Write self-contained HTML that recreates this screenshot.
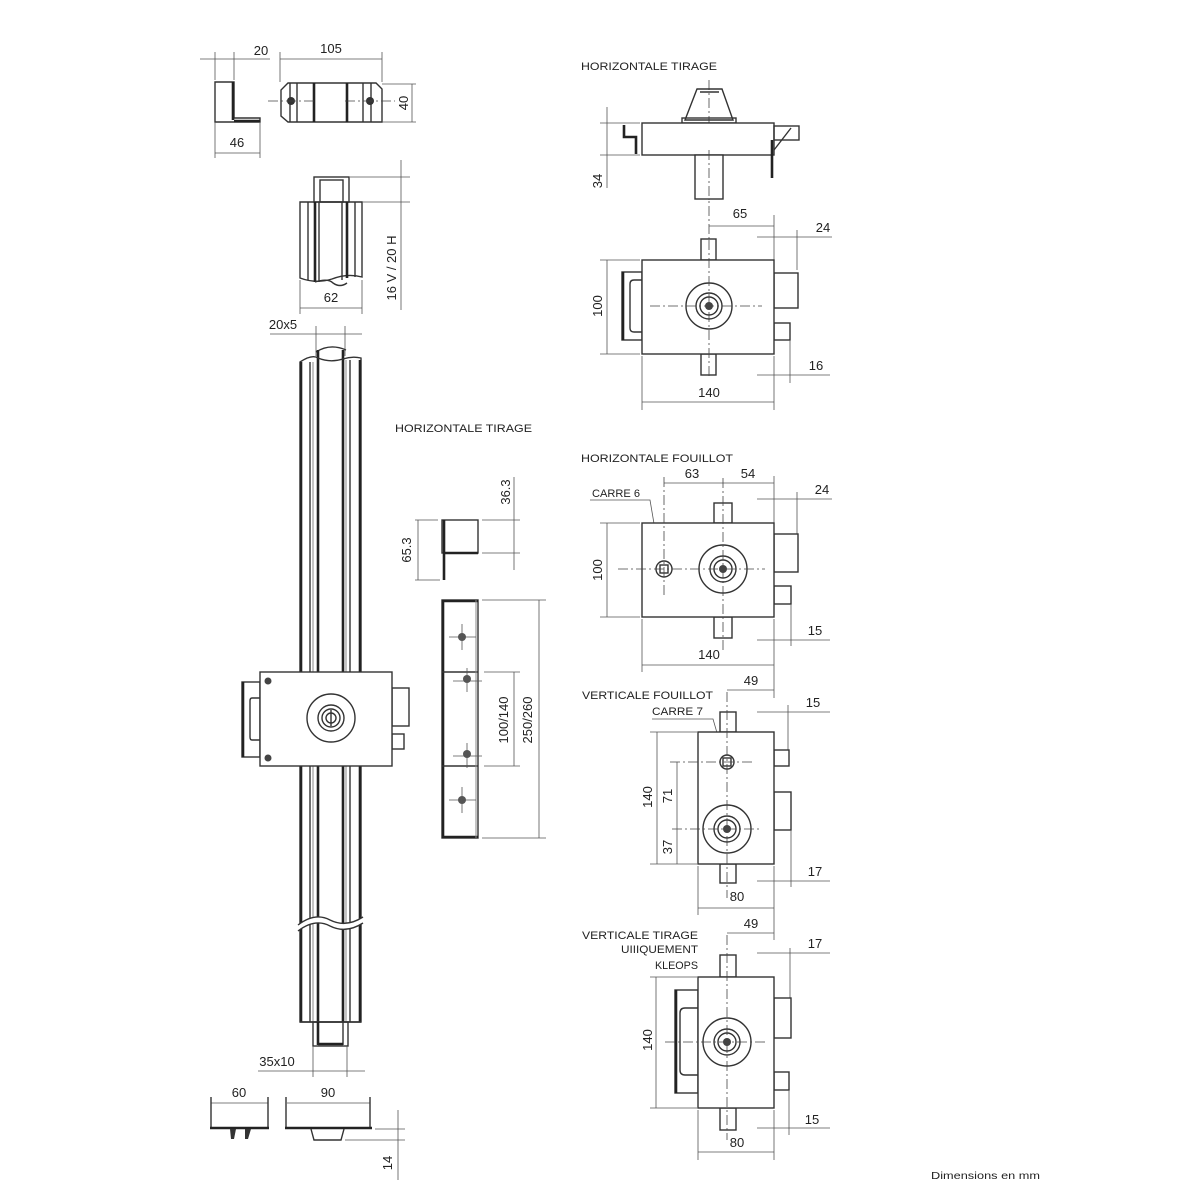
<!DOCTYPE html>
<html><head><meta charset="utf-8">
<style>
html,body{margin:0;padding:0;background:#fff;}
svg{display:block;}
text{font-family:"Liberation Sans",sans-serif;fill:#222;}
.o{fill:none;stroke:#333;stroke-width:1.4;}
.ow{fill:#fff;stroke:#333;stroke-width:1.4;}
.t{fill:none;stroke:#222;stroke-width:2.6;}
.d{fill:none;stroke:#555;stroke-width:0.8;}
.c{fill:none;stroke:#444;stroke-width:0.8;stroke-dasharray:10 3 2 3;}
.g{fill:none;stroke:#888;stroke-width:1;}
.lbl{font-size:13px;}
.hd{font-size:11px;}
</style></head>
<body>
<svg width="1200" height="1200" viewBox="0 0 1200 1200" xmlns="http://www.w3.org/2000/svg">

<!-- ===== Top-left L bracket ===== -->
<line class="d" x1="200" y1="59" x2="270" y2="59"/>
<line class="d" x1="215" y1="52" x2="215" y2="80"/>
<line class="d" x1="234" y1="52" x2="234" y2="80"/>
<text class="lbl" x="261" y="55" text-anchor="middle">20</text>
<path class="o" d="M215 82 H234 V118 H260 V122 H215 Z"/>
<line class="t" x1="233" y1="82" x2="233" y2="120"/>
<line class="t" x1="234" y1="121" x2="260" y2="121"/>
<line class="d" x1="215" y1="122" x2="215" y2="158"/>
<line class="d" x1="260" y1="122" x2="260" y2="158"/>
<line class="d" x1="215" y1="153" x2="260" y2="153"/>
<text class="lbl" x="237" y="147" text-anchor="middle">46</text>

<!-- ===== 105 piece ===== -->
<line class="d" x1="280" y1="52" x2="280" y2="82"/>
<line class="d" x1="382" y1="52" x2="382" y2="82"/>
<line class="d" x1="280" y1="59" x2="382" y2="59"/>
<text class="lbl" x="331" y="53" text-anchor="middle">105</text>
<path class="o" d="M288 83 H376 L382 89 V122 H288 L281 116 V90 Z"/>
<line class="o" x1="290" y1="83" x2="290" y2="122"/>
<line class="o" x1="297" y1="83" x2="297" y2="122"/>
<line class="t" x1="314" y1="83" x2="314" y2="122"/>
<line class="t" x1="347" y1="83" x2="347" y2="122"/>
<line class="o" x1="363" y1="83" x2="363" y2="122"/>
<line class="o" x1="371" y1="83" x2="371" y2="122"/>
<circle cx="291" cy="101" r="4" fill="#333"/>
<circle cx="370" cy="101" r="4" fill="#333"/>
<line class="c" x1="268" y1="101" x2="315" y2="101"/>
<line class="c" x1="345" y1="101" x2="395" y2="101"/>
<line class="d" x1="382" y1="84" x2="416" y2="84"/>
<line class="d" x1="382" y1="122" x2="416" y2="122"/>
<line class="d" x1="412" y1="84" x2="412" y2="122"/>
<text class="lbl" transform="translate(408,103) rotate(-90)" text-anchor="middle">40</text>

<!-- ===== Top rod end ===== -->
<rect class="o" x="314" y="177" width="35" height="25"/>
<rect class="o" x="320" y="180" width="23" height="22"/>
<path class="o" d="M300 202 H362 V277 Q347 273 332 279 Q316 284 300 278 Z"/>
<line class="o" x1="308" y1="202" x2="308" y2="280"/>
<line class="t" x1="315" y1="202" x2="315" y2="282"/>
<line class="o" x1="319" y1="202" x2="319" y2="282"/>
<line class="o" x1="342" y1="202" x2="342" y2="280"/>
<line class="t" x1="347" y1="202" x2="347" y2="278"/>
<line class="o" x1="355" y1="202" x2="355" y2="277"/>
<path class="o" d="M315 282 Q328 278 333 283 Q340 288 347 283"/>
<line class="d" x1="300" y1="280" x2="300" y2="314"/>
<line class="d" x1="362" y1="280" x2="362" y2="314"/>
<line class="d" x1="300" y1="308" x2="362" y2="308"/>
<text class="lbl" x="331" y="302" text-anchor="middle">62</text>
<line class="d" x1="350" y1="177" x2="410" y2="177"/>
<line class="d" x1="362" y1="202" x2="410" y2="202"/>
<line class="d" x1="401" y1="160" x2="401" y2="310"/>
<text class="lbl" transform="translate(396,268) rotate(-90)" text-anchor="middle">16 V / 20 H</text>

<!-- ===== 20x5 ===== -->
<text class="lbl" x="283" y="329" text-anchor="middle">20x5</text>
<line class="d" x1="270" y1="334" x2="362" y2="334"/>
<line class="d" x1="316" y1="326" x2="316" y2="356"/>
<line class="d" x1="345" y1="326" x2="345" y2="356"/>

<!-- ===== Long rod ===== -->
<path class="o" d="M316 352 Q330 343 346 350"/>
<line class="t" x1="318" y1="350" x2="318" y2="1022"/>
<line class="t" x1="343" y1="350" x2="343" y2="1022"/>
<path class="o" d="M300 1022 V362 Q312 354 318 358 Q330 363 343 359 Q352 356 361 358 V1022 Z"/>
<line class="o" x1="310" y1="362" x2="310" y2="1022"/>
<line class="g" x1="313" y1="362" x2="313" y2="1022"/>
<line class="o" x1="350" y1="360" x2="350" y2="1022"/>
<line class="g" x1="346" y1="360" x2="346" y2="1022"/>
<line class="t" x1="301" y1="362" x2="301" y2="1022"/>
<line class="t" x1="360" y1="360" x2="360" y2="1022"/>
<line x1="300" y1="1022" x2="361" y2="1022" stroke="#333" stroke-width="1.6"/>
<!-- break -->
<path d="M298 925 Q315 912 330 920 Q346 928 363 917 L363 923 Q346 934 330 926 Q315 918 298 931 Z" fill="#fff"/>
<path class="o" d="M298 925 Q315 912 330 920 Q346 928 363 917"/>
<path class="o" d="M298 931 Q315 918 330 926 Q346 934 363 923"/>
<!-- bottom bar -->
<rect class="o" x="313" y="1022" width="35" height="24"/>
<line class="t" x1="318" y1="1022" x2="318" y2="1045"/>
<line class="o" x1="343" y1="1022" x2="343" y2="1045"/>
<line class="t" x1="318" y1="1044" x2="343" y2="1044"/>
<text class="lbl" x="277" y="1066" text-anchor="middle">35x10</text>
<line class="d" x1="258" y1="1071" x2="365" y2="1071"/>
<line class="d" x1="313" y1="1046" x2="313" y2="1077"/>
<line class="d" x1="347" y1="1046" x2="347" y2="1077"/>

<!-- ===== Lock on rod ===== -->
<rect class="o" x="242" y="682" width="18" height="75" fill="#fff"/>
<line class="t" x1="243" y1="682" x2="243" y2="757"/>
<path class="o" d="M260 698 H252 Q250 698 250 701 V737 Q250 740 252 740 H260"/>
<rect class="ow" x="392" y="688" width="17" height="38"/>
<rect class="ow" x="392" y="734" width="12" height="15"/>
<rect class="ow" x="260" y="672" width="132" height="94"/>
<circle cx="268" cy="681" r="3.5" fill="#444"/>
<circle cx="268" cy="758" r="3.5" fill="#444"/>
<circle class="o" cx="331" cy="718" r="24"/>
<circle class="o" cx="331" cy="718" r="13"/>
<circle class="o" cx="331" cy="718" r="9"/>
<circle class="o" cx="331" cy="718" r="5"/>
<line class="o" x1="331" y1="710" x2="331" y2="726"/>

<!-- ===== Middle strike ===== -->
<text class="hd" x="395" y="432" textLength="137" lengthAdjust="spacingAndGlyphs">HORIZONTALE  TIRAGE</text>
<rect class="o" x="442" y="520" width="36" height="33"/>
<line class="t" x1="444" y1="520" x2="444" y2="580"/>
<line class="t" x1="444" y1="553" x2="478" y2="553"/>
<line class="d" x1="415" y1="520" x2="438" y2="520"/>
<line class="d" x1="415" y1="580" x2="440" y2="580"/>
<line class="d" x1="418" y1="520" x2="418" y2="580"/>
<text class="lbl" transform="translate(411,550) rotate(-90)" text-anchor="middle">65.3</text>
<line class="d" x1="482" y1="520" x2="520" y2="520"/>
<line class="d" x1="482" y1="553" x2="520" y2="553"/>
<line class="d" x1="514" y1="477" x2="514" y2="570"/>
<text class="lbl" transform="translate(510,492) rotate(-90)" text-anchor="middle">36.3</text>

<rect class="o" x="442" y="600" width="36" height="238"/>
<line class="t" x1="443" y1="600" x2="443" y2="838"/>
<line class="t" x1="442" y1="601" x2="478" y2="601"/>
<line class="t" x1="442" y1="837" x2="478" y2="837"/>
<line class="o" x1="442" y1="672" x2="478" y2="672"/>
<line class="o" x1="442" y1="766" x2="478" y2="766"/>
<line class="g" x1="476" y1="600" x2="476" y2="838"/>
<g fill="#555">
<circle cx="462" cy="637" r="4"/><circle cx="467" cy="679" r="4"/>
<circle cx="467" cy="754" r="4"/><circle cx="462" cy="800" r="4"/>
</g>
<g class="d">
<line x1="449" y1="637" x2="476" y2="637"/><line x1="462" y1="624" x2="462" y2="650"/>
<line x1="453" y1="681" x2="482" y2="681"/><line x1="467" y1="668" x2="467" y2="692"/>
<line x1="453" y1="756" x2="482" y2="756"/><line x1="467" y1="743" x2="467" y2="768"/>
<line x1="449" y1="800" x2="476" y2="800"/><line x1="462" y1="787" x2="462" y2="813"/>
</g>
<line class="d" x1="482" y1="600" x2="546" y2="600"/>
<line class="d" x1="484" y1="672" x2="520" y2="672"/>
<line class="d" x1="484" y1="766" x2="520" y2="766"/>
<line class="d" x1="482" y1="838" x2="546" y2="838"/>
<line class="d" x1="514" y1="672" x2="514" y2="766"/>
<line class="d" x1="539" y1="600" x2="539" y2="838"/>
<text class="lbl" transform="translate(508,720) rotate(-90)" text-anchor="middle">100/140</text>
<text class="lbl" transform="translate(532,720) rotate(-90)" text-anchor="middle">250/260</text>

<!-- ===== HORIZONTALE TIRAGE (right) ===== -->
<text class="hd" x="581" y="70" textLength="136" lengthAdjust="spacingAndGlyphs">HORIZONTALE  TIRAGE</text>
<line class="c" x1="709" y1="80" x2="709" y2="240"/>
<path class="o" d="M697 89 H722 L733 120 H685 Z"/>
<line class="o" x1="700" y1="92" x2="719" y2="92"/>
<rect class="o" x="682" y="118" width="54" height="5"/>
<rect class="ow" x="642" y="123" width="132" height="32"/>
<path class="t" d="M624 125 V137 H636 V154"/>
<rect class="o" x="774" y="126" width="25" height="14"/>
<line class="o" x1="774" y1="150" x2="791" y2="128"/>
<line class="t" x1="772" y1="140" x2="772" y2="178"/>
<rect class="ow" x="695" y="155" width="28" height="44"/>
<line class="c" x1="709" y1="150" x2="709" y2="200"/>
<line class="d" x1="600" y1="123" x2="640" y2="123"/>
<line class="d" x1="600" y1="155" x2="640" y2="155"/>
<line class="d" x1="607" y1="107" x2="607" y2="188"/>
<text class="lbl" transform="translate(602,181) rotate(-90)" text-anchor="middle">34</text>

<line class="d" x1="709" y1="226" x2="774" y2="226"/>
<text class="lbl" x="740" y="218" text-anchor="middle">65</text>
<line class="d" x1="774" y1="215" x2="774" y2="260"/>
<line class="d" x1="757" y1="237" x2="832" y2="237"/>
<line class="d" x1="797" y1="230" x2="797" y2="270"/>
<text class="lbl" x="823" y="232" text-anchor="middle">24</text>

<rect class="ow" x="701" y="239" width="15" height="21"/>
<rect class="ow" x="701" y="354" width="15" height="21"/>
<rect class="ow" x="622" y="272" width="20" height="68"/>
<line class="t" x1="623" y1="272" x2="623" y2="340"/>
<path class="o" d="M642 280 H634 Q630 280 630 284 V328 Q630 332 634 332 H642"/>
<rect class="ow" x="774" y="273" width="24" height="35"/>
<rect class="ow" x="774" y="323" width="16" height="17"/>
<rect class="ow" x="642" y="260" width="132" height="94"/>
<circle class="o" cx="709" cy="306" r="23"/>
<circle class="o" cx="709" cy="306" r="13"/>
<circle class="o" cx="709" cy="306" r="9"/>
<circle cx="709" cy="306" r="4" fill="#444"/>
<line class="c" x1="650" y1="306" x2="762" y2="306"/>
<line class="c" x1="709" y1="240" x2="709" y2="376"/>
<line class="d" x1="600" y1="260" x2="640" y2="260"/>
<line class="d" x1="600" y1="354" x2="640" y2="354"/>
<line class="d" x1="607" y1="260" x2="607" y2="354"/>
<text class="lbl" transform="translate(602,306) rotate(-90)" text-anchor="middle">100</text>
<line class="d" x1="757" y1="375" x2="830" y2="375"/>
<line class="d" x1="790" y1="340" x2="790" y2="383"/>
<text class="lbl" x="816" y="370" text-anchor="middle">16</text>
<line class="d" x1="642" y1="356" x2="642" y2="410"/>
<line class="d" x1="774" y1="356" x2="774" y2="410"/>
<line class="d" x1="642" y1="402" x2="774" y2="402"/>
<text class="lbl" x="709" y="397" text-anchor="middle">140</text>

<!-- ===== HORIZONTALE FOUILLOT ===== -->
<text class="hd" x="581" y="462" textLength="152" lengthAdjust="spacingAndGlyphs">HORIZONTALE  FOUILLOT</text>
<line class="d" x1="664" y1="483" x2="774" y2="483"/>
<text class="lbl" x="692" y="478" text-anchor="middle">63</text>
<text class="lbl" x="748" y="478" text-anchor="middle">54</text>
<line class="d" x1="774" y1="476" x2="774" y2="523"/>
<line class="d" x1="757" y1="499" x2="832" y2="499"/>
<line class="d" x1="797" y1="492" x2="797" y2="534"/>
<text class="lbl" x="822" y="494" text-anchor="middle">24</text>
<text class="hd" x="592" y="497" textLength="48" lengthAdjust="spacingAndGlyphs">CARRE  6</text>
<path class="d" d="M590 500 H650 L659 553"/>
<rect class="ow" x="714" y="503" width="18" height="20"/>
<rect class="ow" x="714" y="617" width="18" height="21"/>
<rect class="ow" x="774" y="534" width="24" height="38"/>
<rect class="ow" x="774" y="586" width="17" height="18"/>
<rect class="ow" x="642" y="523" width="132" height="94"/>
<circle class="o" cx="723" cy="569" r="24"/>
<circle class="o" cx="723" cy="569" r="13"/>
<circle class="o" cx="723" cy="569" r="9"/>
<circle cx="723" cy="569" r="4" fill="#444"/>
<circle class="o" cx="664" cy="569" r="8"/>
<rect class="o" x="660" y="565" width="8" height="8"/>
<line class="c" x1="723" y1="478" x2="723" y2="650"/>
<line class="c" x1="664" y1="477" x2="664" y2="597"/>
<line class="c" x1="618" y1="569" x2="765" y2="569"/>
<line class="d" x1="600" y1="523" x2="640" y2="523"/>
<line class="d" x1="600" y1="617" x2="640" y2="617"/>
<line class="d" x1="607" y1="523" x2="607" y2="617"/>
<text class="lbl" transform="translate(602,570) rotate(-90)" text-anchor="middle">100</text>
<line class="d" x1="757" y1="640" x2="830" y2="640"/>
<line class="d" x1="791" y1="604" x2="791" y2="646"/>
<text class="lbl" x="815" y="635" text-anchor="middle">15</text>
<line class="d" x1="642" y1="619" x2="642" y2="672"/>
<line class="d" x1="774" y1="619" x2="774" y2="698"/>
<line class="d" x1="642" y1="665" x2="774" y2="665"/>
<text class="lbl" x="709" y="659" text-anchor="middle">140</text>

<!-- ===== VERTICALE FOUILLOT ===== -->
<text class="lbl" x="751" y="685" text-anchor="middle">49</text>
<line class="d" x1="727" y1="690" x2="774" y2="690"/>
<text class="hd" x="582" y="699" textLength="131" lengthAdjust="spacingAndGlyphs">VERTICALE  FOUILLOT</text>
<text class="hd" x="652" y="715" textLength="51" lengthAdjust="spacingAndGlyphs">CARRE  7</text>
<path class="d" d="M652 719 H713 L722 750"/>
<line class="d" x1="757" y1="712" x2="830" y2="712"/>
<line class="d" x1="788" y1="705" x2="788" y2="750"/>
<text class="lbl" x="813" y="707" text-anchor="middle">15</text>
<rect class="ow" x="720" y="712" width="16" height="20"/>
<rect class="ow" x="720" y="864" width="16" height="19"/>
<rect class="ow" x="774" y="750" width="15" height="16"/>
<rect class="ow" x="774" y="792" width="17" height="38"/>
<rect class="ow" x="698" y="732" width="76" height="132"/>
<circle class="o" cx="727" cy="762" r="7"/>
<rect class="o" x="723" y="758" width="8" height="8"/>
<circle class="o" cx="727" cy="829" r="24"/>
<circle class="o" cx="727" cy="829" r="13"/>
<circle class="o" cx="727" cy="829" r="9"/>
<circle cx="727" cy="829" r="4" fill="#444"/>
<line class="c" x1="727" y1="692" x2="727" y2="898"/>
<line class="c" x1="670" y1="762" x2="752" y2="762"/>
<line class="c" x1="672" y1="829" x2="762" y2="829"/>
<line class="d" x1="650" y1="732" x2="697" y2="732"/>
<line class="d" x1="650" y1="864" x2="697" y2="864"/>
<line class="d" x1="657" y1="732" x2="657" y2="864"/>
<line class="d" x1="677" y1="762" x2="677" y2="864"/>
<text class="lbl" transform="translate(652,797) rotate(-90)" text-anchor="middle">140</text>
<text class="lbl" transform="translate(672,796) rotate(-90)" text-anchor="middle">71</text>
<text class="lbl" transform="translate(672,847) rotate(-90)" text-anchor="middle">37</text>
<line class="d" x1="757" y1="881" x2="830" y2="881"/>
<line class="d" x1="791" y1="830" x2="791" y2="887"/>
<text class="lbl" x="815" y="876" text-anchor="middle">17</text>
<line class="d" x1="698" y1="866" x2="698" y2="915"/>
<line class="d" x1="774" y1="866" x2="774" y2="940"/>
<line class="d" x1="698" y1="908" x2="774" y2="908"/>
<text class="lbl" x="737" y="901" text-anchor="middle">80</text>

<!-- ===== VERTICALE TIRAGE ===== -->
<text class="lbl" x="751" y="928" text-anchor="middle">49</text>
<line class="d" x1="727" y1="933" x2="774" y2="933"/>
<text class="hd" x="582" y="939" textLength="116" lengthAdjust="spacingAndGlyphs">VERTICALE  TIRAGE</text>
<text class="hd" x="698" y="953" text-anchor="end" textLength="77" lengthAdjust="spacingAndGlyphs">UIIIQUEMENT</text>
<text class="hd" x="698" y="969" text-anchor="end" textLength="43" lengthAdjust="spacingAndGlyphs">KLEOPS</text>
<line class="d" x1="757" y1="953" x2="830" y2="953"/>
<line class="d" x1="790" y1="948" x2="790" y2="998"/>
<text class="lbl" x="815" y="948" text-anchor="middle">17</text>
<rect class="ow" x="720" y="955" width="16" height="22"/>
<rect class="ow" x="720" y="1108" width="16" height="22"/>
<rect class="ow" x="675" y="990" width="23" height="103"/>
<line class="t" x1="676" y1="990" x2="676" y2="1093"/>
<path class="o" d="M698 1008 H685 Q680 1008 680 1013 V1070 Q680 1075 685 1075 H698"/>
<rect class="ow" x="774" y="998" width="17" height="40"/>
<rect class="ow" x="774" y="1072" width="15" height="18"/>
<rect class="ow" x="698" y="977" width="76" height="131"/>
<circle class="o" cx="727" cy="1042" r="24"/>
<circle class="o" cx="727" cy="1042" r="13"/>
<circle class="o" cx="727" cy="1042" r="9"/>
<circle cx="727" cy="1042" r="4" fill="#444"/>
<line class="c" x1="727" y1="935" x2="727" y2="1140"/>
<line class="c" x1="665" y1="1042" x2="765" y2="1042"/>
<line class="d" x1="650" y1="977" x2="697" y2="977"/>
<line class="d" x1="650" y1="1108" x2="697" y2="1108"/>
<line class="d" x1="656" y1="977" x2="656" y2="1108"/>
<text class="lbl" transform="translate(652,1040) rotate(-90)" text-anchor="middle">140</text>
<line class="d" x1="757" y1="1128" x2="830" y2="1128"/>
<line class="d" x1="789" y1="1090" x2="789" y2="1135"/>
<text class="lbl" x="812" y="1124" text-anchor="middle">15</text>
<line class="d" x1="698" y1="1110" x2="698" y2="1160"/>
<line class="d" x1="774" y1="1110" x2="774" y2="1160"/>
<line class="d" x1="698" y1="1152" x2="774" y2="1152"/>
<text class="lbl" x="737" y="1147" text-anchor="middle">80</text>

<!-- ===== Bottom parts ===== -->
<text class="lbl" x="239" y="1097" text-anchor="middle">60</text>
<line class="d" x1="211" y1="1103" x2="268" y2="1103"/>
<line class="o" x1="211" y1="1097" x2="211" y2="1127"/>
<line class="o" x1="268" y1="1097" x2="268" y2="1127"/>
<line class="t" x1="210" y1="1128" x2="269" y2="1128"/>
<path d="M230 1129 H236 L234 1139 H231 Z" fill="#333"/>
<path d="M245 1129 H251 L248 1139 H245 Z" fill="#333"/>
<text class="lbl" x="328" y="1097" text-anchor="middle">90</text>
<line class="d" x1="287" y1="1103" x2="370" y2="1103"/>
<line class="o" x1="286" y1="1097" x2="286" y2="1127"/>
<line class="o" x1="370" y1="1097" x2="370" y2="1127"/>
<line class="t" x1="285" y1="1128" x2="372" y2="1128"/>
<path class="o" d="M311 1129 L314 1140 H341 L344 1129"/>
<line class="d" x1="375" y1="1129" x2="405" y2="1129"/>
<line class="d" x1="345" y1="1140" x2="405" y2="1140"/>
<line class="d" x1="398" y1="1110" x2="398" y2="1180"/>
<text class="lbl" transform="translate(392,1163) rotate(-90)" text-anchor="middle">14</text>

<text x="931" y="1179" font-size="10" textLength="109" lengthAdjust="spacingAndGlyphs">Dimensions en mm</text>
</svg>
</body></html>
